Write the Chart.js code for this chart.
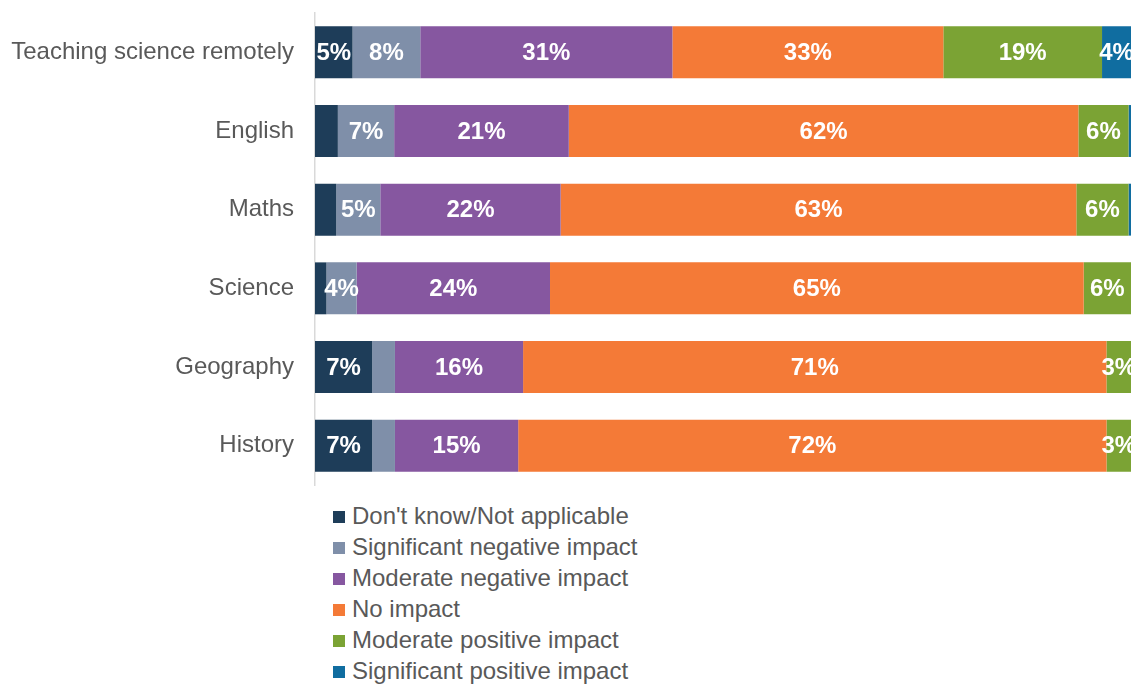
<!DOCTYPE html>
<html>
<head>
<meta charset="utf-8">
<script src="https://cdn.jsdelivr.net/npm/chart.js@4/dist/chart.umd.min.js"></script>
<style>
  html, body { margin: 0; padding: 0; background: #fff; overflow: hidden; }
  #wrap { position: relative; width: 1131px; height: 684px; }
  #c { position: absolute; left: 0; top: 0; }
  #legend { position: absolute; left: 333px; top: 500px; font-family: "Liberation Sans", Arial, sans-serif; font-size: 24px; color: #595959; }
  .li { height: 31px; line-height: 31px; white-space: nowrap; }
  .bx { display: inline-block; width: 12px; height: 12px; margin-right: 7px; vertical-align: 1px; }
</style>
</head>
<body>
<div id="wrap">
  <canvas id="c" width="1131" height="492"></canvas>
  <div id="legend"></div>
</div>
<script>
const categories = ["Teaching science remotely", "English", "Maths", "Science", "Geography", "History"];
const seriesNames = ["Don't know/Not applicable", "Significant negative impact", "Moderate negative impact", "No impact", "Moderate positive impact", "Significant positive impact"];
const dontKnow      = [4.6, 2.8, 2.6, 1.4, 7.0, 7.0];
const sigNegative   = [8.3, 6.9, 5.4, 3.7, 2.8, 2.8];
const modNegative   = [30.9, 21.4, 22.1, 23.7, 15.7, 15.1];
const noImpact      = [33.2, 62.45, 63.2, 65.4, 71.49, 72.1];
const modPositive   = [19.45, 6.15, 6.4, 5.8, 3.01, 3.0];
const sigPositive   = [3.55, 0.3, 0.3, 0.0, 0.0, 0.0];
const seriesColors  = ["#1E3D59", "#7F8FA9", "#8657A0", "#F47A37", "#7BA334", "#106DA0"];

const seriesValues = [dontKnow, sigNegative, modNegative, noImpact, modPositive, sigPositive];
const FONT = '"Liberation Sans", Arial, sans-serif';

const labelPlugin = {
  id: 'segLabels',
  afterDatasetsDraw(chart) {
    const ctx = chart.ctx;
    ctx.save();
    ctx.font = 'bold 24px ' + FONT;
    ctx.fillStyle = '#ffffff';
    ctx.textAlign = 'center';
    ctx.textBaseline = 'middle';
    chart.data.datasets.forEach((ds, di) => {
      const meta = chart.getDatasetMeta(di);
      meta.data.forEach((bar, i) => {
        const v = ds.data[i];
        if (v < 3) return;
        const p = bar.getProps(['x', 'y', 'base'], true);
        ctx.fillText(Math.round(v) + '%', (p.x + p.base) / 2, p.y + 1);
      });
    });
    ctx.restore();
  }
};

const chart = new Chart(document.getElementById('c'), {
  type: 'bar',
  data: {
    labels: categories,
    datasets: seriesNames.map((n, i) => ({
      label: n,
      data: seriesValues[i],
      backgroundColor: seriesColors[i],
      borderWidth: 0,
      barPercentage: 0.66,
      categoryPercentage: 1.0
    }))
  },
  options: {
    indexAxis: 'y',
    responsive: false,
    animation: false,
    layout: { padding: { top: 13, bottom: 7, left: 0, right: 0 } },
    plugins: { legend: { display: false }, tooltip: { enabled: false } },
    scales: {
      x: { stacked: true, min: 0, max: 100, display: false },
      y: {
        stacked: true,
        grid: { display: false, drawTicks: false },
        border: { display: true, color: '#D9D9D9', width: 1.5 },
        ticks: { color: '#595959', font: { family: FONT, size: 24 }, padding: 21 },
        afterFit(s) { s.width = 315; s.paddingTop = 0; s.paddingBottom = 0; }
      }
    }
  },
  plugins: [labelPlugin]
});

const lg = document.getElementById('legend');
chart.data.datasets.forEach(ds => {
  const d = document.createElement('div');
  d.className = 'li';
  const b = document.createElement('span');
  b.className = 'bx';
  b.style.background = ds.backgroundColor;
  d.appendChild(b);
  d.appendChild(document.createTextNode(ds.label));
  lg.appendChild(d);
});
</script>
</body>
</html>
